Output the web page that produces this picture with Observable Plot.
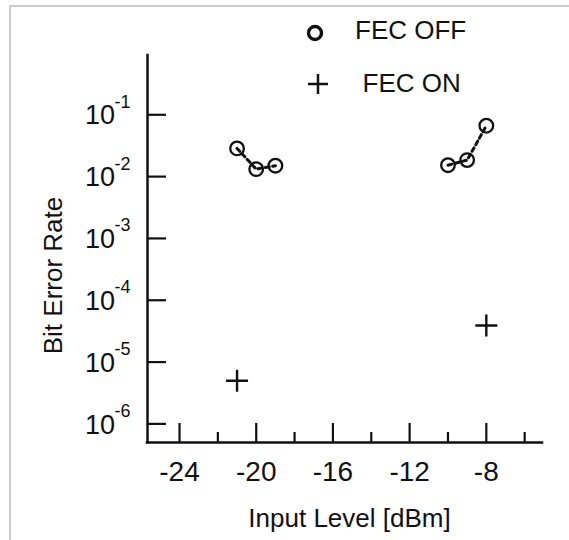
<!DOCTYPE html>
<html><head><meta charset="utf-8">
<script src="https://cdn.jsdelivr.net/npm/d3@7"></script>
<script src="https://cdn.jsdelivr.net/npm/@observablehq/plot@0.6"></script>
<style>
html,body{margin:0;padding:0;background:#fff;}
#wrap{position:relative;width:569px;height:540px;overflow:hidden;font-family:"Liberation Sans",Arial,sans-serif;}
#frame{position:absolute;left:9px;top:5px;width:600px;height:600px;border-top:2px solid #cdcdcd;border-left:2px solid #cdcdcd;}
#chart{position:absolute;left:0;top:0;}
#legend{position:absolute;left:0;top:0;}
</style></head>
<body>
<div id="wrap"><div id="frame"></div><div id="chart"></div>
<svg id="legend" width="569" height="110"></svg></div>
<script>
// ---- data ----
const xMajorTicks = [-24, -20, -16, -12, -8];
const xMinorTicks = [-22, -18, -14, -10, -6];
const yTicks = [1e-1, 1e-2, 1e-3, 1e-4, 1e-5, 1e-6];
const yTickExponents = ["-1", "-2", "-3", "-4", "-5", "-6"];
const fecOffLevel = [-21, -20, -19, -10, -9, -8];
const fecOffBER = [0.0286, 0.0132, 0.015, 0.0153, 0.0185, 0.0665];
const fecOffRun = ["low", "low", "low", "high", "high", "high"];
const fecOnLevel = [-21, -8];
const fecOnBER = [5.0e-6, 3.9e-5];
const seriesNames = ["FEC OFF", "FEC ON"];
const xTitle = "Input Level [dBm]";
const yTitle = "Bit Error Rate";
const xDomain = [-25.67, -5.07];
const yDomain = [5.0e-7, 0.91];

const offData = fecOffLevel.map((x, i) => ({x, ber: fecOffBER[i], run: fecOffRun[i]}));
const onData = fecOnLevel.map((x, i) => ({x, ber: fecOnBER[i]}));
const ink = "#111";

const plusSymbol = {
  draw(ctx, size) {
    const r = Math.sqrt(size / Math.PI);
    ctx.moveTo(-r, 0); ctx.lineTo(r, 0);
    ctx.moveTo(0, -r); ctx.lineTo(0, r);
  }
};

const chart = Plot.plot({
  width: 569, height: 540,
  marginLeft: 147, marginRight: 27, marginTop: 55, marginBottom: 98,
  style: {fontFamily: "'Liberation Sans', Arial, sans-serif", fontSize: "26px", color: ink, background: "transparent", overflow: "visible"},
  x: {domain: xDomain, label: null},
  y: {type: "log", domain: yDomain, label: null},
  marks: [
    Plot.axisX({ticks: xMajorTicks, tickSize: -19, strokeWidth: 2.2, tickFormat: () => "", label: null}),
    Plot.axisX({ticks: xMinorTicks, tickSize: -10, strokeWidth: 2.2, tickFormat: () => "", label: null}),
    Plot.axisY({ticks: yTicks, tickSize: -19, strokeWidth: 2.2, tickFormat: () => "", label: null}),
    Plot.text(xMajorTicks, {x: d => d, text: d => `${d}`, frameAnchor: "bottom", textAnchor: "middle", lineAnchor: "bottom", dy: 38, fontSize: 28, fill: ink}),
    Plot.text(yTicks, {y: d => d, text: () => "10", frameAnchor: "left", textAnchor: "end", lineAnchor: "middle", dx: -32.5, dy: 1, fontSize: 27, fill: ink}),
    Plot.text(yTicks, {y: d => d, text: (d, i) => yTickExponents[i], frameAnchor: "left", textAnchor: "start", lineAnchor: "bottom", dx: -33, dy: -7, fontSize: 18, fill: ink}),
    Plot.ruleX([xDomain[0]], {stroke: ink, strokeWidth: 2.5, strokeLinecap: "square"}),
    Plot.ruleY([yDomain[0]], {stroke: ink, strokeWidth: 2.5, strokeLinecap: "square"}),
    Plot.text([yTitle], {text: d => d, frameAnchor: "left", rotate: -90, lineAnchor: "middle", textAnchor: "middle", dx: -93.6, dy: 26.5, fontSize: 26, fill: ink}),
    Plot.text([xTitle], {text: d => d, frameAnchor: "bottom", lineAnchor: "bottom", textAnchor: "middle", dx: 4.5, dy: 84, fontSize: 26, fill: ink}),
    Plot.dot(offData, {x: "x", y: "ber", r: 6.8, fill: "white", stroke: ink, strokeWidth: 2.3}),
    Plot.line(offData, {x: "x", y: "ber", z: "run", stroke: ink, strokeWidth: 3, strokeDasharray: "4,3.5"}),
    Plot.dot(onData, {x: "x", y: "ber", symbol: plusSymbol, r: 11, fill: "none", stroke: ink, strokeWidth: 2.4})
  ]
});
document.getElementById("chart").appendChild(chart);

// ---- legend ----
const lg = d3.select("#legend");
lg.append("circle").attr("cx", 315).attr("cy", 33).attr("r", 6.5).attr("fill", "none").attr("stroke", ink).attr("stroke-width", 3.4);
lg.append("path").attr("d", "M308,84H328M318,74V94").attr("stroke", ink).attr("stroke-width", 2.5).attr("fill", "none");
lg.append("text").attr("x", 355).attr("y", 39).text(seriesNames[0])
  .attr("font-size", 26).attr("font-family", "'Liberation Sans', Arial, sans-serif").attr("fill", ink);
lg.append("text").attr("x", 362.5).attr("y", 92.3).text(seriesNames[1])
  .attr("font-size", 26).attr("font-family", "'Liberation Sans', Arial, sans-serif").attr("fill", ink);
</script>
</body></html>
